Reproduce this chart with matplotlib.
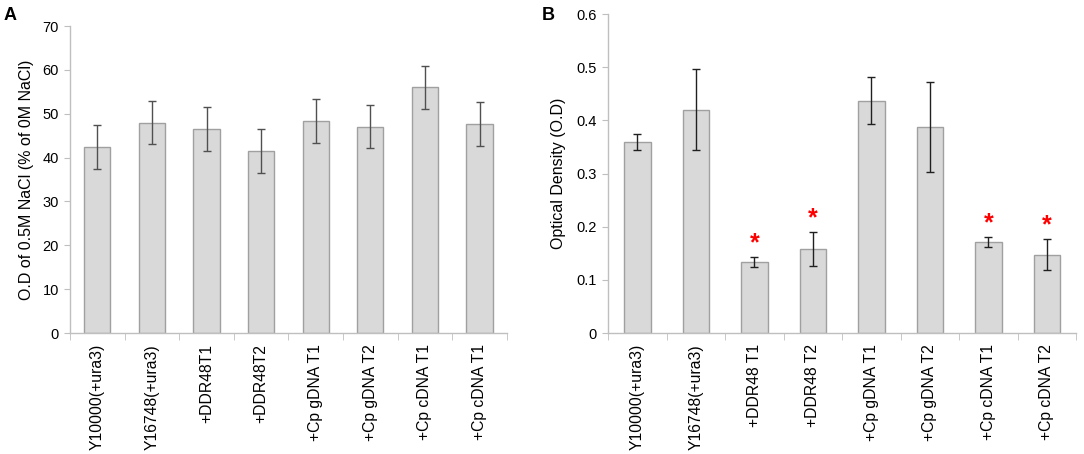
import numpy as np
import matplotlib
matplotlib.use("Agg")
import matplotlib.pyplot as plt
from matplotlib.ticker import FixedLocator

plt.rcParams["font.family"] = ["Liberation Sans", "DejaVu Sans"]

# Panel A data
labels_a = ["Y10000(+ura3)", "Y16748(+ura3)", "+DDR48T1", "+DDR48T2",
            "+Cp gDNA T1", "+Cp gDNA T2", "+Cp cDNA T1", "+Cp cDNA T1"]
values_a = [42.5, 48.0, 46.5, 41.5, 48.4, 47.1, 56.0, 47.7]
errors_a = [5.0, 5.0, 5.0, 5.0, 5.0, 5.0, 5.0, 5.0]

# Panel B data
labels_b = ["Y10000(+ura3)", "Y16748(+ura3)", "+DDR48 T1", "+DDR48 T2",
            "+Cp gDNA T1", "+Cp gDNA T2", "+Cp cDNA T1", "+Cp cDNA T2"]
values_b = [0.360, 0.420, 0.134, 0.158, 0.437, 0.387, 0.171, 0.147]
errors_b = [0.015, 0.076, 0.009, 0.032, 0.044, 0.085, 0.009, 0.029]
signif_b = [False, False, True, True, False, False, True, True]

bar_color = "#d9d9d9"
edge_color = "#a0a0a0"
axis_color = "#bfbfbf"

fig = plt.figure(figsize=(10.84, 4.54), dpi=100)
ax_a = fig.add_axes([0.0646, 0.2665, 0.403, 0.676])
ax_b = fig.add_axes([0.561, 0.2665, 0.4317, 0.7026])


def style_axis(ax, labels, ylim, yticks, ylabels, ylabel, labelpad):
    x = np.arange(len(labels))
    ax.set_xlim(-0.5, len(labels) - 0.5)
    ax.set_ylim(*ylim)
    for side in ["top", "right"]:
        ax.spines[side].set_visible(False)
    for side in ["left", "bottom"]:
        ax.spines[side].set_color(axis_color)
        ax.spines[side].set_linewidth(1.0)
    ax.set_xticks(x)
    ax.set_xticklabels(labels, rotation=90, fontsize=11.3)
    ax.tick_params(axis="x", which="major", length=0, pad=8)
    ax.xaxis.set_minor_locator(FixedLocator(np.arange(-0.5, len(labels), 1.0)))
    ax.tick_params(axis="x", which="minor", length=5, color=axis_color)
    ax.set_yticks(yticks)
    ax.set_yticklabels(ylabels, fontsize=10.5)
    ax.tick_params(axis="y", length=4, color=axis_color, pad=4)
    ax.set_ylabel(ylabel, fontsize=11.5, labelpad=labelpad)
    return x


x_a = style_axis(ax_a, labels_a, (0, 70), range(0, 71, 10),
                 [str(v) for v in range(0, 71, 10)],
                 "O.D of 0.5M NaCl (% of 0M NaCl)", 6)
ax_a.bar(x_a, values_a, width=0.48, color=bar_color, edgecolor=edge_color,
         linewidth=1.0, zorder=2)
ax_a.errorbar(x_a, values_a, yerr=errors_a, fmt="none", ecolor="#505050",
              elinewidth=1.0, capsize=3, capthick=1.0, zorder=3)

yt_b = [0, 0.1, 0.2, 0.3, 0.4, 0.5, 0.6]
x_b = style_axis(ax_b, labels_b, (0, 0.6), yt_b,
                 ["0", "0.1", "0.2", "0.3", "0.4", "0.5", "0.6"],
                 "Optical Density (O.D)", 8)
ax_b.bar(x_b, values_b, width=0.45, color=bar_color, edgecolor=edge_color,
         linewidth=1.0, zorder=2)
ax_b.errorbar(x_b, values_b, yerr=errors_b, fmt="none", ecolor="#202020",
              elinewidth=1.0, capsize=3, capthick=1.0, zorder=3)

# red asterisks above significant bars
for xi, v, e, s in zip(x_b, values_b, errors_b, signif_b):
    if s:
        ax_b.text(xi, v + e + 0.004, "*", color="red", fontsize=18,
                  fontweight="bold", ha="center", va="bottom")

fig.text(0.003, 0.985, "A", fontsize=13, fontweight="bold", va="top")
fig.text(0.500, 0.985, "B", fontsize=13, fontweight="bold", va="top")

fig.savefig("out.png", dpi=100)
